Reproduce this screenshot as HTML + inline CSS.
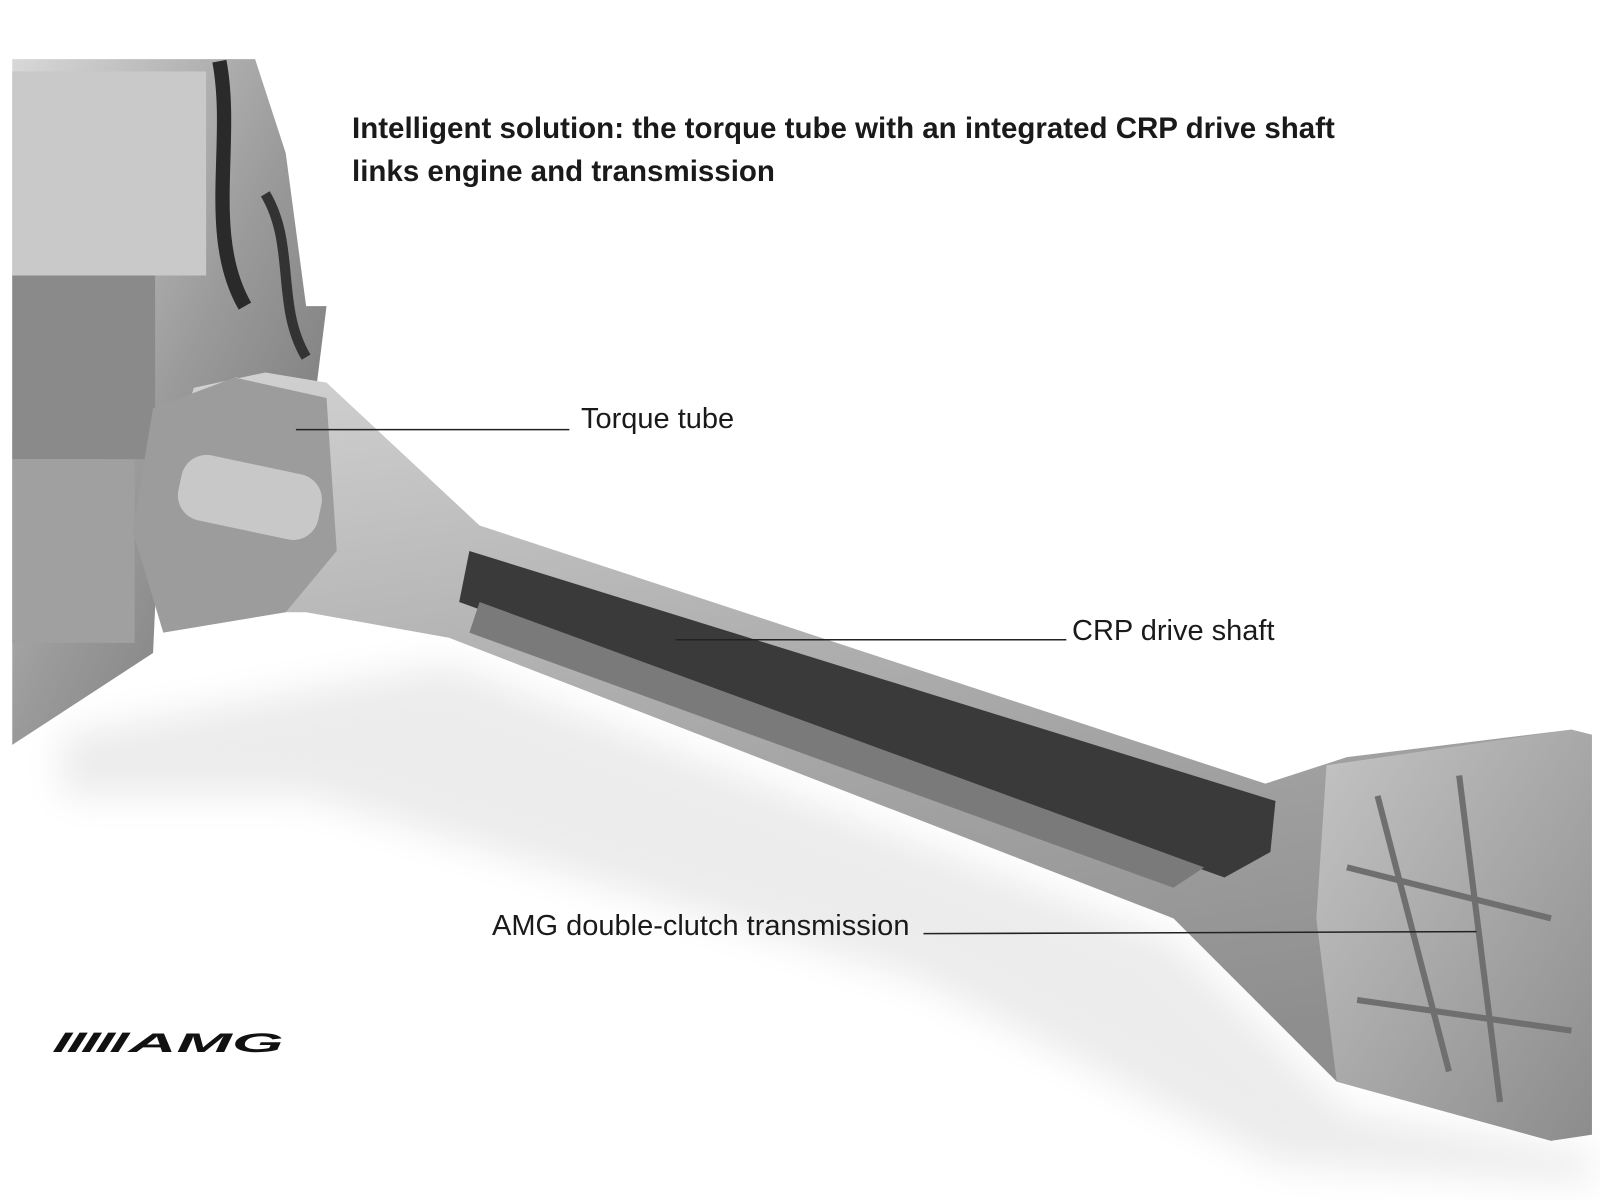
<!DOCTYPE html>
<html><head><style>
html,body{margin:0;padding:0;background:#fff;}
body{width:1600px;height:1200px;position:relative;overflow:hidden;font-family:"Liberation Sans",sans-serif;}
.t{position:absolute;color:#1a1a1a;white-space:nowrap;}
</style></head><body>
<svg width="1600" height="1200" style="position:absolute;left:0;top:0">
<defs>
<linearGradient id="eng" x1="0" y1="0" x2="1" y2="1">
<stop offset="0" stop-color="#d8d8d8"/><stop offset="0.5" stop-color="#9a9a9a"/><stop offset="1" stop-color="#6a6a6a"/></linearGradient>
<linearGradient id="tube" x1="0" y1="0" x2="0.3" y2="1">
<stop offset="0" stop-color="#d2d2d2"/><stop offset="0.5" stop-color="#ababab"/><stop offset="1" stop-color="#8e8e8e"/></linearGradient>
<linearGradient id="tr" x1="0" y1="0" x2="1" y2="1">
<stop offset="0" stop-color="#c4c4c4"/><stop offset="1" stop-color="#8c8c8c"/></linearGradient>
<filter id="bl"><feGaussianBlur stdDeviation="18"/></filter>
</defs>
<g transform="scale(1.0204)">
<polygon points="60,720 440,650 1150,920 1320,1090 1560,1130 1560,1160 1250,1140 900,960 300,780 60,780" fill="#ececec" filter="url(#bl)"/>
<polygon points="12,58 250,58 280,150 300,300 320,300 310,380 230,370 160,420 150,640 12,730" fill="url(#eng)"/>
<rect x="12" y="70" width="190" height="200" fill="#c9c9c9"/>
<rect x="12" y="270" width="140" height="180" fill="#8a8a8a"/>
<rect x="12" y="450" width="120" height="180" fill="#a0a0a0"/>
<path d="M215,60 C230,140 200,230 240,300" stroke="#2a2a2a" stroke-width="14" fill="none"/>
<path d="M260,190 C290,240 270,300 300,350" stroke="#333" stroke-width="10" fill="none"/>
<polygon points="190,380 260,365 320,375 470,515 1240,768 1320,742 1540,715 1560,720 1560,1112 1520,1118 1310,1060 1150,900 440,625 300,600 190,600 140,540" fill="url(#tube)"/>
<polygon points="150,400 230,370 320,390 330,540 280,600 160,620 130,520" fill="#9c9c9c"/>
<rect x="175" y="455" width="140" height="65" rx="25" fill="#c8c8c8" transform="rotate(12 245 487)"/>
<polygon points="460,540 1250,785 1245,835 1200,860 450,590" fill="#3a3a3a"/>
<polygon points="470,590 1180,850 1150,870 460,620" fill="#7a7a7a"/>
<polygon points="1300,750 1540,715 1560,720 1560,1112 1520,1118 1310,1060 1290,900" fill="url(#tr)"/>
<path d="M1350,780 L1420,1050 M1430,760 L1470,1080 M1320,850 L1520,900 M1330,980 L1540,1010" stroke="#6f6f6f" stroke-width="6" fill="none"/>
<line x1="290" y1="421" x2="558" y2="421" stroke="#222" stroke-width="1.5"/>
<line x1="662" y1="627" x2="1045" y2="627" stroke="#222" stroke-width="1.5"/>
<line x1="905" y1="915" x2="1447" y2="913" stroke="#222" stroke-width="1.5"/>
<g fill="#111">
<polygon points="52,1031 64,1012 72,1012 60,1031"/>
<polygon points="66,1031 78,1012 86,1012 74,1031"/>
<polygon points="80,1031 92,1012 100,1012 88,1031"/>
<polygon points="94,1031 106,1012 114,1012 102,1031"/>
<polygon points="108,1031 120,1012 128,1012 116,1031"/>
</g>
<text x="126" y="1031" font-family="Liberation Sans" font-weight="bold" font-style="italic" font-size="26" textLength="152" lengthAdjust="spacingAndGlyphs" fill="#111">AMG</text>
</g>
</svg>
<div class="t" style="left:352px;top:107px;font-size:29.5px;font-weight:bold;line-height:43px;">Intelligent solution: the torque tube with an integrated CRP drive shaft<br>links engine and transmission</div>
<div class="t" style="left:581px;top:403px;font-size:29px;">Torque tube</div>
<div class="t" style="left:1072px;top:615px;font-size:29px;">CRP drive shaft</div>
<div class="t" style="left:492px;top:910px;font-size:29px;">AMG double-clutch transmission</div>
</body></html>
